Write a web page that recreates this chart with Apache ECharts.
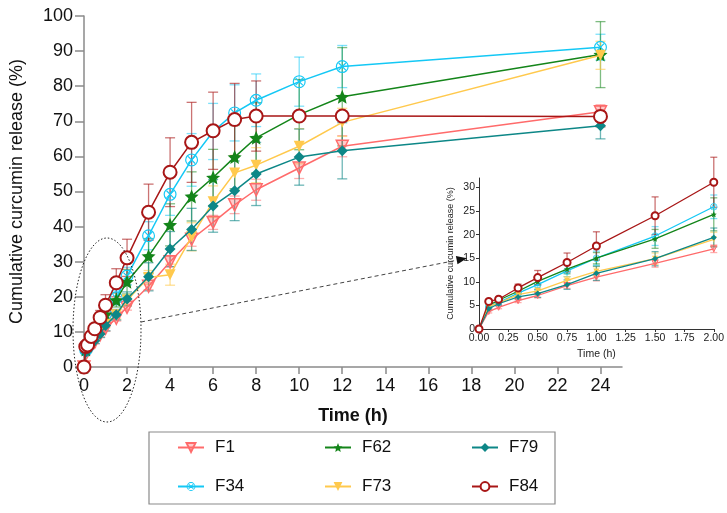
<!DOCTYPE html>
<html>
<head>
<meta charset="utf-8">
<script src="https://cdn.jsdelivr.net/npm/echarts@6/dist/echarts.min.js"></script>
<style>
html,body{margin:0;padding:0;background:#fff;}
#chart{width:727px;height:513px;}
</style>
</head>
<body>
<div id="chart"></div>
<script>
// ---- Data ----
const times = [0, 0.083, 0.167, 0.333, 0.5, 0.75, 1, 1.5, 2, 3, 4, 5, 6, 7, 8, 10, 12, 24];
const seriesNames = ['F1', 'F34', 'F62', 'F73', 'F79', 'F84'];
const F1  = [0, 3.7, 4.6, 6.0, 7.1, 9.2, 11.0, 13.9, 17.0, 23.0, 30.0, 36.4, 41.2, 46.2, 50.5, 56.7, 62.9, 72.7];
const F34 = [0, 4.8, 5.6, 7.6, 9.4, 12.3, 15.0, 19.7, 25.9, 37.4, 49.2, 59.0, 67.1, 72.4, 76.0, 81.3, 85.6, 91.1];
const F62 = [0, 5.0, 6.1, 8.0, 10.1, 12.7, 15.0, 19.1, 24.3, 31.6, 40.5, 48.6, 54.0, 59.8, 65.3, 71.9, 77.0, 89.0];
const F73 = [0, 4.8, 5.5, 7.3, 8.1, 10.3, 12.2, 14.9, 19.0, 25.5, 26.3, 37.1, 47.1, 55.3, 57.5, 62.9, 69.7, 88.8];
const F79 = [0, 4.3, 5.35, 6.8, 7.5, 9.4, 11.8, 14.9, 19.4, 25.7, 33.6, 39.2, 45.9, 50.2, 55.0, 59.8, 61.6, 68.7];
const F84 = [0, 5.85, 6.3, 8.7, 10.9, 14.1, 17.6, 24.0, 31.1, 44.1, 55.5, 64.0, 67.3, 70.5, 71.5, 71.5, 71.5, 71.4];
// standard deviations (error bars)
const F1_sd  = [0, 0.3, 0.3, 0.4, 0.5, 0.6, 0.8, 0.8, 0.8, 1.0, 1.5, 2.0, 2.0, 2.5, 3.0, 3.0, 3.0, 2.0];
const F34_sd = [0, 0.5, 0.5, 0.8, 1.0, 1.2, 1.5, 2.0, 2.5, 4.0, 6.0, 7.5, 8.0, 8.0, 7.5, 7.0, 6.0, 3.7];
const F62_sd = [0, 0.4, 0.4, 0.6, 0.8, 1.0, 1.2, 2.0, 3.5, 5.0, 6.0, 7.0, 8.0, 9.0, 10.0, 10.0, 14.0, 9.4];
const F73_sd = [0, 0.3, 0.4, 0.5, 0.6, 0.8, 1.0, 1.2, 1.5, 2.0, 3.0, 4.0, 4.5, 5.0, 5.0, 5.0, 4.0, 4.0];
const F79_sd = [0, 0.4, 0.4, 0.6, 0.8, 1.0, 1.5, 1.5, 2.0, 4.0, 5.0, 6.0, 7.5, 8.5, 9.0, 8.0, 8.0, 3.7];
const F84_sd = [0, 0.4, 0.4, 0.8, 1.5, 2.0, 3.0, 4.0, 5.3, 8.0, 9.8, 11.4, 11.0, 10.3, 10.0, 1.0, 1.0, 3.0];
const mainXTicks = [0, 2, 4, 6, 8, 10, 12, 14, 16, 18, 20, 22, 24];
const mainYTicks = [0, 10, 20, 30, 40, 50, 60, 70, 80, 90, 100];
const insetXTicks = [0, 0.25, 0.5, 0.75, 1, 1.25, 1.5, 1.75, 2];
const insetYTicks = [0, 5, 10, 15, 20, 25, 30];

const values = [F1, F34, F62, F73, F79, F84];
const sds = [F1_sd, F34_sd, F62_sd, F73_sd, F79_sd, F84_sd];

// ---- Styles ----
const colors = ['#ff6b6b', '#14c8f5', '#14851a', '#ffc94d', '#0d8787', '#a81616'];
const errColors = ['rgba(255,107,107,0.55)', 'rgba(20,200,245,0.55)', 'rgba(20,133,26,0.55)', 'rgba(255,201,77,0.6)', 'rgba(13,135,135,0.6)', 'rgba(168,22,22,0.6)'];
const ringX = 'path://M0,10 A10,10 0 1,1 20,10 A10,10 0 1,1 0,10 Z M1.8,10 A8.2,8.2 0 1,0 18.2,10 A8.2,8.2 0 1,0 1.8,10 Z M3.9,5.2 L5.2,3.9 L16.1,14.8 L14.8,16.1 Z M14.8,3.9 L16.1,5.2 L5.2,16.1 L3.9,14.8 Z';
const star = 'path://M10,0 L12.9,6.9 L20,7.6 L14.6,12.3 L16.2,19.5 L10,15.7 L3.8,19.5 L5.4,12.3 L0,7.6 L7.1,6.9 Z';
const symbols = [
  {symbol: 'triangle', rotate: 180, size: 12, item: {color: 'rgba(255,107,107,0.35)', borderColor: '#ff6b6b', borderWidth: 1.5}},
  {symbol: ringX, rotate: 0, size: 13, item: {color: colors[1]}},
  {symbol: star, rotate: 0, size: 14, item: {color: colors[2]}},
  {symbol: 'triangle', rotate: 180, size: 11, item: {color: colors[3]}},
  {symbol: 'diamond', rotate: 0, size: 11, item: {color: colors[4]}},
  {symbol: 'emptyCircle', rotate: 0, size: 13, item: {color: colors[5], borderWidth: 1.3}}
];
const insetScale = [0.5, 0.5, 0.45, 0.5, 0.55, 0.55];

const FONT = '"Liberation Sans", Arial, Helvetica, sans-serif';

function errRenderer(cap) {
  return function (params, api) {
    const x = api.value(0), lo = api.value(1), hi = api.value(2);
    const p1 = api.coord([x, hi]);
    const p2 = api.coord([x, lo]);
    const style = {stroke: api.visual('color'), lineWidth: 1.3, fill: null};
    return {
      type: 'group',
      children: [
        {type: 'line', shape: {x1: p1[0], y1: p1[1], x2: p2[0], y2: p2[1]}, style: style},
        {type: 'line', shape: {x1: p1[0] - cap, y1: p1[1], x2: p1[0] + cap, y2: p1[1]}, style: style},
        {type: 'line', shape: {x1: p2[0] - cap, y1: p2[1], x2: p2[0] + cap, y2: p2[1]}, style: style}
      ]
    };
  };
}

const series = [];
// error bars first (behind)
seriesNames.forEach((name, k) => {
  const mainErr = [], insetErr = [];
  times.forEach((t, i) => {
    if (sds[k][i] > 0) {
      const row = [t, values[k][i] - sds[k][i], values[k][i] + sds[k][i]];
      mainErr.push(row);
      if (t <= 2) insetErr.push(row);
    }
  });
  series.push({
    type: 'custom', name: name + '_err', xAxisIndex: 0, yAxisIndex: 0,
    renderItem: errRenderer(5), itemStyle: {color: errColors[k]},
    encode: {x: 0, y: [1, 2]}, data: mainErr, z: 1, silent: true
  });
  series.push({
    type: 'custom', name: name + '_err_in', xAxisIndex: 1, yAxisIndex: 1,
    renderItem: errRenderer(3.5), itemStyle: {color: errColors[k]},
    encode: {x: 0, y: [1, 2]}, data: insetErr, z: 1, silent: true
  });
});
seriesNames.forEach((name, k) => {
  const s = symbols[k];
  const data = times.map((t, i) => [t, values[k][i]]);
  series.push({
    type: 'line', name: name, xAxisIndex: 0, yAxisIndex: 0,
    data: data, symbol: s.symbol, symbolRotate: s.rotate, symbolSize: s.size,
    showAllSymbol: true, itemStyle: s.item,
    lineStyle: {color: colors[k], width: 1.5}, z: 3 + k
  });
  series.push({
    type: 'line', name: name + '_in', xAxisIndex: 1, yAxisIndex: 1,
    data: data.filter(d => d[0] <= 2), symbol: s.symbol, symbolRotate: s.rotate,
    symbolSize: Math.round(s.size * insetScale[k]),
    showAllSymbol: true, itemStyle: Object.assign({}, s.item, {borderWidth: 1}),
    lineStyle: {color: colors[k], width: 1.3}, z: 3 + k
  });
});

const legendCommon = {
  orient: 'vertical', itemWidth: 26, itemHeight: 11, itemGap: 22,
  textStyle: {fontFamily: FONT, fontSize: 17, color: '#111', padding: [0, 0, 0, 6]},
  padding: 0
};

const option = {
  animation: false,
  backgroundColor: '#fff',
  grid: [
    {left: 81, right: 105, top: 16, bottom: 146, containLabel: false},
    {left: 479, right: 13, top: 178, bottom: 184, containLabel: false}
  ],
  xAxis: [
    {
      type: 'value', gridIndex: 0, min: 0, max: 25, interval: 2,
      name: 'Time (h)', nameLocation: 'middle', nameGap: 40,
      nameTextStyle: {fontFamily: FONT, fontSize: 18, color: '#111', fontWeight: 'bold'},
      axisLine: {show: true, onZero: false, lineStyle: {color: '#8a8a8a', width: 1.5}},
      axisTick: {show: true, length: 7, lineStyle: {color: '#8a8a8a', width: 1.5}, customValues: mainXTicks},
      axisLabel: {fontFamily: FONT, fontSize: 18, color: '#111', margin: 10, customValues: mainXTicks,
        formatter: v => (v > 24 ? '' : String(v))},
      splitLine: {show: false}
    },
    {
      type: 'value', gridIndex: 1, min: 0, max: 2, interval: 0.25,
      name: 'Time (h)', nameLocation: 'middle', nameGap: 20,
      nameTextStyle: {fontFamily: FONT, fontSize: 10.5, color: '#222'},
      axisLine: {show: true, onZero: false, lineStyle: {color: '#333', width: 1}},
      axisTick: {show: true, length: 3, lineStyle: {color: '#333'}},
      axisLabel: {fontFamily: FONT, fontSize: 10.5, color: '#222', margin: 4, formatter: v => v.toFixed(2)},
      splitLine: {show: false}
    }
  ],
  yAxis: [
    {
      type: 'value', gridIndex: 0, min: 0, max: 100, interval: 10,
      name: 'Cumulative curcumin release (%)', nameLocation: 'middle', nameGap: 58,
      nameTextStyle: {fontFamily: FONT, fontSize: 18, color: '#111'},
      axisLine: {show: true, onZero: false, lineStyle: {color: '#8a8a8a', width: 1.5}},
      axisTick: {show: true, length: 9, lineStyle: {color: '#8a8a8a', width: 1.5}, customValues: mainYTicks},
      axisLabel: {fontFamily: FONT, fontSize: 18, color: '#111', margin: 11, customValues: mainYTicks},
      splitLine: {show: false}
    },
    {
      type: 'value', gridIndex: 1, min: 0, max: 32, interval: 5,
      name: 'Cumulative curcumin release (%)', nameLocation: 'middle', nameGap: 24,
      nameTextStyle: {fontFamily: FONT, fontSize: 9, color: '#222'},
      axisLine: {show: true, onZero: false, lineStyle: {color: '#333', width: 1}},
      axisTick: {show: true, length: 3, lineStyle: {color: '#333'}, customValues: insetYTicks},
      axisLabel: {fontFamily: FONT, fontSize: 10.5, color: '#222', margin: 4, customValues: insetYTicks,
        formatter: v => (v > 30 ? '' : String(v))},
      splitLine: {show: false}
    }
  ],
  legend: [
    Object.assign({left: 177, top: 439, data: ['F1', 'F34']}, legendCommon),
    Object.assign({left: 324, top: 439, data: ['F62', 'F73']}, legendCommon),
    Object.assign({left: 471, top: 439, data: ['F79', 'F84']}, legendCommon)
  ],
  graphic: [
    {type: 'rect', shape: {x: 149, y: 432, width: 406, height: 72}, style: {fill: null, stroke: '#8a8a8a', lineWidth: 1.2}, z: 0},
    {type: 'ellipse', shape: {cx: 107, cy: 330, rx: 34, ry: 92}, style: {fill: null, stroke: '#222', lineWidth: 1, lineDash: [1.5, 2]}, z: 10},
    {type: 'line', shape: {x1: 141, y1: 322, x2: 458, y2: 260}, style: {stroke: '#444', lineWidth: 1, lineDash: [4, 3]}, z: 10},
    {type: 'polygon', shape: {points: [[467, 258.3], [457.5, 264.3], [455.9, 256.0]]}, style: {fill: '#111'}, z: 10}
  ],
  series: series
};

const chart = echarts.init(document.getElementById('chart'), null, {renderer: 'canvas'});
chart.setOption(option);
</script>
</body>
</html>
